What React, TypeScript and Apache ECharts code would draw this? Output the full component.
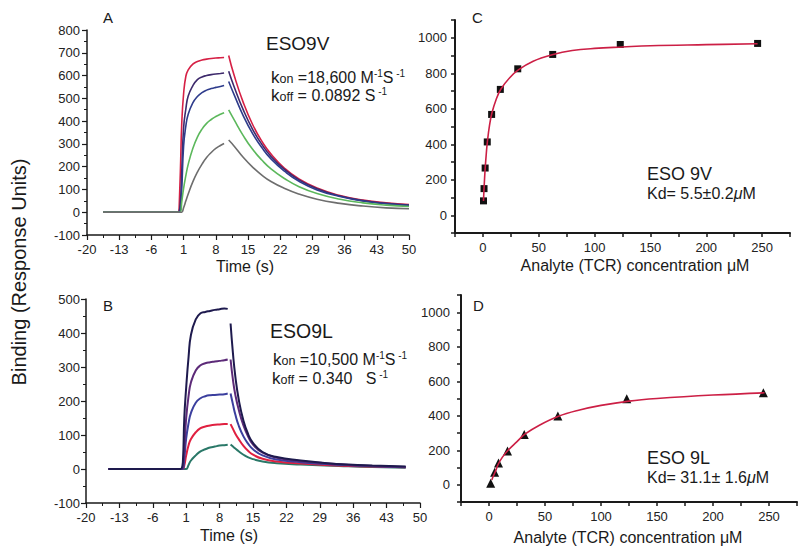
import React, { useEffect, useRef } from 'react';
import * as echarts from 'echarts';

const FONT = "'Liberation Sans', Arial, Helvetica, sans-serif";
const INK = '#1a1a1a';

// ---------- Panel A : ESO9V sensorgrams ----------
const timeTickLabels = [-20, -13, -6, 1, 8, 15, 22, 29, 36, 43, 50];
const timeMinorTicks = [-16.5, -9.5, -2.5, 4.5, 11.5, 18.5, 25.5, 32.5, 39.5, 46.5];
const aBaselineT = [-16.5, 0];
const aAssocT = [0, 0.3, 0.6, 1, 1.5, 2, 3, 4, 5, 6, 7, 8, 9, 9.8];
const aRedAssoc = [0, 180, 390, 520, 598, 625, 650, 662, 668, 672, 675, 677, 678, 679];
const aPurpleAssoc = [0, 40, 180, 370, 455, 510, 555, 582, 594, 600, 604, 607, 609, 611];
const aNavyAssoc = [0, 10, 100, 290, 380, 430, 480, 508, 525, 536, 543, 548, 552, 556];
const aGreenAssoc = [0, 0, 45, 105, 162, 210, 280, 330, 365, 390, 407, 420, 430, 437];
const aGrayAssoc = [0, 0, 0, 20, 50, 80, 133, 176, 211, 240, 262, 280, 293, 302];
const aDissT = [10.8, 12, 14, 16, 18, 20, 23, 26, 30, 35, 40, 45, 50];
const aRedDiss = [688, 600, 480, 385, 312, 255, 192, 147, 106, 73, 53, 41, 34];
const aPurpleDiss = [619, 550, 448, 364, 298, 245, 187, 143, 103, 71, 51, 39, 31];
const aNavyDiss = [574, 515, 422, 345, 284, 234, 179, 137, 98, 69, 49, 37, 29];
const aGreenDiss = [449, 405, 335, 276, 229, 190, 147, 113, 82, 57, 41, 31, 25];
const aGrayDiss = [317, 290, 240, 198, 163, 135, 104, 80, 57, 39, 27, 19, 15];

// ---------- Panel B : ESO9L sensorgrams ----------
const bBaselineT = [-15.3, 0];
const bAssocT = [0, 0.3, 0.6, 1, 1.5, 2, 3, 4, 5, 6, 7, 8, 9, 9.7];
const bNavyAssoc = [0, 20, 150, 240, 330, 395, 440, 458, 462, 465, 468, 470, 472, 471];
const bPurpleAssoc = [0, 5, 60, 150, 215, 255, 290, 305, 311, 314, 316, 318, 320, 322];
const bBlueAssoc = [0, 0, 30, 90, 135, 165, 195, 208, 214, 217, 218, 219, 220, 222];
const bRedAssoc = [0, 0, 10, 40, 70, 88, 108, 120, 125, 128, 130, 131, 132, 132];
const bTealAssoc = [0, 0, 0, 0, 12, 25, 40, 52, 58, 63, 66, 69, 70, 71];
const bDissT = [10.3, 10.8, 11.3, 12, 13, 14, 15, 17, 20, 25, 30, 35, 40, 47];
const bNavyDiss = [428, 340, 272, 205, 142, 102, 77, 50, 35, 25, 18, 13, 10, 7];
const bPurpleDiss = [322, 262, 218, 175, 128, 95, 72, 48, 33, 23, 17, 12, 9, 6];
const bBlueDiss = [222, 190, 160, 128, 96, 74, 58, 40, 28, 20, 15, 11, 8, 5];
const bRedDiss = [132, 118, 104, 88, 68, 53, 42, 30, 22, 16, 12, 9, 7, 5];
const bTealDiss = [72, 66, 60, 52, 42, 34, 29, 22, 17, 13, 10, 8, 6, 4];

// ---------- Panel C : ESO 9V equilibrium ----------
const cConc = [0.5, 1, 2, 3.9, 7.8, 15.6, 31.2, 62.5, 123, 246];
const cResp = [81, 150, 266, 413, 568, 709, 825, 906, 962, 968];
const cFitX = [0.5, 1, 2, 3, 4, 6, 8, 12, 16, 24, 32, 45, 62, 80, 100, 125, 150, 200, 246];
const cFitY = [80, 150, 262, 345, 415, 510, 575, 655, 710, 775, 820, 868, 904, 928, 940, 948, 955, 961, 966];

// ---------- Panel D : ESO 9L equilibrium ----------
const dConc = [1.5, 5, 8.5, 16.5, 31.5, 61.5, 123, 245];
const dResp = [8, 72, 126, 196, 291, 398, 498, 534];
const dFitX = [2.5, 4, 6, 8, 12, 17, 25, 32, 45, 62, 80, 100, 125, 150, 200, 246];
const dFitY = [28, 52, 82, 116, 160, 200, 250, 293, 345, 397, 432, 460, 485, 500, 520, 533];

const concLabels = [0, 50, 100, 150, 200, 250];
const respLabels = [0, 200, 400, 600, 800, 1000];

const pairs = (t: number[], v: number[]) => t.map((x, i) => [x, v[i]]);
const plain = (v: number) => String(v);

function kinetic(
  xi: number, yi: number, color: string, width: number,
  baseT: number[], assocT: number[], assocV: number[], dissT: number[], dissV: number[]
) {
  const common = {
    type: 'line', xAxisIndex: xi, yAxisIndex: yi, symbol: 'none', showSymbol: false,
    lineStyle: { color, width }, itemStyle: { color }, silent: true,
  };
  return [
    { ...common, data: baseT.map((t) => [t, 0]) },
    { ...common, smooth: 0.5, data: pairs(assocT, assocV) },
    { ...common, smooth: 0.5, data: pairs(dissT, dissV) },
  ];
}

const labelStyle = { color: '#222', fontSize: 13, fontFamily: FONT, formatter: plain };
const lineAx = (w: number) => ({ show: true, onZero: false, lineStyle: { color: INK, width: w } });

function timeAxis(gi: number, margin: number) {
  return {
    type: 'value', gridIndex: gi, min: -20, max: 50, position: 'bottom',
    axisLine: lineAx(1.5),
    axisTick: { show: true, length: 5, customValues: timeTickLabels, lineStyle: { color: INK, width: 1.2 } },
    axisLabel: { ...labelStyle, margin, customValues: timeTickLabels },
    splitLine: { show: false },
  };
}
function timeMinorAxis(gi: number) {
  return {
    type: 'value', gridIndex: gi, min: -20, max: 50, position: 'bottom', offset: 0,
    axisLine: { show: false, onZero: false },
    axisTick: { show: true, length: 3, customValues: timeMinorTicks, lineStyle: { color: INK, width: 1 } },
    axisLabel: { show: false },
    splitLine: { show: false },
  };
}
function concAxis(gi: number) {
  return {
    type: 'value', gridIndex: gi, min: -25, max: 275, interval: 25,
    axisLine: lineAx(2),
    axisTick: { show: true, length: 4, lineStyle: { color: INK, width: 1.5 } },
    axisLabel: { ...labelStyle, margin: 8, customValues: concLabels },
    splitLine: { show: false },
  };
}
function respAxis(gi: number, margin: number) {
  return {
    type: 'value', gridIndex: gi, min: -100, max: 1100, interval: 100,
    axisLine: lineAx(2),
    axisTick: { show: true, length: 4, lineStyle: { color: INK, width: 1.5 } },
    axisLabel: { ...labelStyle, margin, customValues: respLabels },
    splitLine: { show: false },
  };
}
function kinYAxis(gi: number, max: number, margin: number) {
  return {
    type: 'value', gridIndex: gi, min: -100, max, interval: 100,
    axisLine: lineAx(1.5),
    axisTick: { show: true, length: 5, lineStyle: { color: INK, width: 1.2 } },
    minorTick: { show: true, splitNumber: 2, length: 3, lineStyle: { color: INK, width: 1 } },
    axisLabel: { ...labelStyle, margin },
    splitLine: { show: false },
    minorSplitLine: { show: false },
  };
}

function txt(x: number, y: number, text: string, size: number, align = 'left', extra: any = {}) {
  return {
    type: 'text', x, y, silent: true, ...extra,
    style: {
      text, fill: '#1a1a1a', fontSize: size, fontFamily: FONT,
      align, verticalAlign: 'middle', textAlign: align, textVerticalAlign: 'middle',
    },
  };
}
function rate(x: number, y: number, text: string) {
  const base = { fontFamily: FONT, fill: '#1a1a1a' };
  return {
    type: 'text', x, y, silent: true,
    style: {
      text, ...base, fontSize: 16,
      align: 'left', verticalAlign: 'middle', textAlign: 'left', textVerticalAlign: 'middle',
      rich: {
        k: { ...base, fontSize: 17, lineHeight: 17 },
        t: { ...base, fontSize: 16, lineHeight: 17 },
        s: { ...base, fontSize: 12.5, lineHeight: 11, verticalAlign: 'bottom' },
        p: { ...base, fontSize: 10, lineHeight: 10, verticalAlign: 'top' },
      },
    },
  };
}
function kd(x: number, y: number, pre: string) {
  const base = { fontFamily: FONT, fill: '#1a1a1a', fontSize: 16 };
  return {
    type: 'text', x, y, silent: true,
    style: {
      text: `{t|${pre}}{i|μ}{t|M}`, ...base,
      align: 'left', verticalAlign: 'middle', textAlign: 'left', textVerticalAlign: 'middle',
      rich: { t: { ...base }, i: { ...base, fontStyle: 'italic' } },
    },
  };
}

export default function App() {
  const ref = useRef<HTMLDivElement>(null);
  useEffect(() => {
    if (!ref.current) return;
    const chart = echarts.init(ref.current, undefined, { renderer: 'svg' });
    const series: any[] = [
      ...kinetic(0, 0, '#d62045', 1.6, aBaselineT, aAssocT, aRedAssoc, aDissT, aRedDiss),
      ...kinetic(0, 0, '#3e2a6c', 1.6, aBaselineT, aAssocT, aPurpleAssoc, aDissT, aPurpleDiss),
      ...kinetic(0, 0, '#2e3c8c', 1.6, aBaselineT, aAssocT, aNavyAssoc, aDissT, aNavyDiss),
      ...kinetic(0, 0, '#5cb85c', 1.6, aBaselineT, aAssocT, aGreenAssoc, aDissT, aGreenDiss),
      ...kinetic(0, 0, '#6e6e6e', 1.6, aBaselineT, aAssocT, aGrayAssoc, aDissT, aGrayDiss),
      ...kinetic(1, 1, '#2a7868', 2, bBaselineT, bAssocT, bTealAssoc, bDissT, bTealDiss),
      ...kinetic(1, 1, '#e02040', 2, bBaselineT, bAssocT, bRedAssoc, bDissT, bRedDiss),
      ...kinetic(1, 1, '#3b3f9e', 2, bBaselineT, bAssocT, bBlueAssoc, bDissT, bBlueDiss),
      ...kinetic(1, 1, '#5c2a78', 2, bBaselineT, bAssocT, bPurpleAssoc, bDissT, bPurpleDiss),
      ...kinetic(1, 1, '#1e1a4e', 2, bBaselineT, bAssocT, bNavyAssoc, bDissT, bNavyDiss),
      {
        type: 'scatter', xAxisIndex: 2, yAxisIndex: 2, symbol: 'rect', symbolSize: 7,
        itemStyle: { color: '#111111', opacity: 1 }, data: pairs(cConc, cResp), silent: true, z: 2,
      },
      {
        type: 'line', xAxisIndex: 2, yAxisIndex: 2, symbol: 'none', showSymbol: false, smooth: 0.4,
        lineStyle: { color: '#cc1f45', width: 1.6 }, data: pairs(cFitX, cFitY), z: 3, silent: true,
      },
      {
        type: 'scatter', xAxisIndex: 3, yAxisIndex: 3, symbol: 'triangle', symbolSize: 9,
        itemStyle: { color: '#111111', opacity: 1 }, data: pairs(dConc, dResp), silent: true, z: 2,
      },
      {
        type: 'line', xAxisIndex: 3, yAxisIndex: 3, symbol: 'none', showSymbol: false, smooth: 0.4,
        lineStyle: { color: '#cc1f45', width: 1.6 }, data: pairs(dFitX, dFitY), z: 3, silent: true,
      },
    ];
    chart.setOption({
      animation: false,
      backgroundColor: '#ffffff',
      textStyle: { fontFamily: FONT },
      grid: [
        { left: 87, top: 30, width: 322, height: 205 },
        { left: 86, top: 299, width: 334, height: 204 },
        { left: 455, top: 20, width: 335, height: 213 },
        { left: 461, top: 295, width: 336, height: 207 },
      ],
      xAxis: [timeAxis(0, 8), timeAxis(1, 8), concAxis(2), concAxis(3), timeMinorAxis(0), timeMinorAxis(1)],
      yAxis: [kinYAxis(0, 800, 7), kinYAxis(1, 500, 6), respAxis(2, 8), respAxis(3, 11)],
      series,
      graphic: [
        txt(103, 17, 'A', 15),
        txt(103, 305, 'B', 15),
        txt(472, 17, 'C', 15),
        txt(473, 305, 'D', 15),
        txt(266, 43, 'ESO9V', 19),
        rate(271, 77, '{k|k}{s|on}{t| =18,600 M}{p|-1}{t|S}{p| -1}'),
        rate(271, 95, '{k|k}{s|off}{t| = 0.0892 S}{p| -1}'),
        txt(270, 331, 'ESO9L', 19.5),
        rate(273, 359, '{k|k}{s|on}{t| =10,500 M}{p|-1}{t|S}{p| -1}'),
        rate(272, 378, '{k|k}{s|off}{t| = 0.340   S}{p| -1}'),
        txt(647, 173.5, 'ESO 9V', 18),
        kd(647, 193, 'Kd= 5.5±0.2'),
        txt(647, 457.5, 'ESO 9L', 18),
        kd(647, 477.5, 'Kd= 31.1± 1.6'),
        txt(245, 266, 'Time (s)', 16, 'center'),
        txt(229, 535, 'Time (s)', 16, 'center'),
        txt(635, 265, 'Analyte (TCR) concentration μM', 16, 'center'),
        txt(628, 537, 'Analyte (TCR) concentration μM', 16, 'center'),
        txt(19, 272, 'Binding (Response Units)', 20, 'center', { rotation: Math.PI / 2 }),
      ],
    });
    return () => chart.dispose();
  }, []);
  return (
    <div
      ref={ref}
      style={{ position: 'fixed', left: 0, top: 0, width: 800, height: 552, background: '#fff' }}
    />
  );
}
